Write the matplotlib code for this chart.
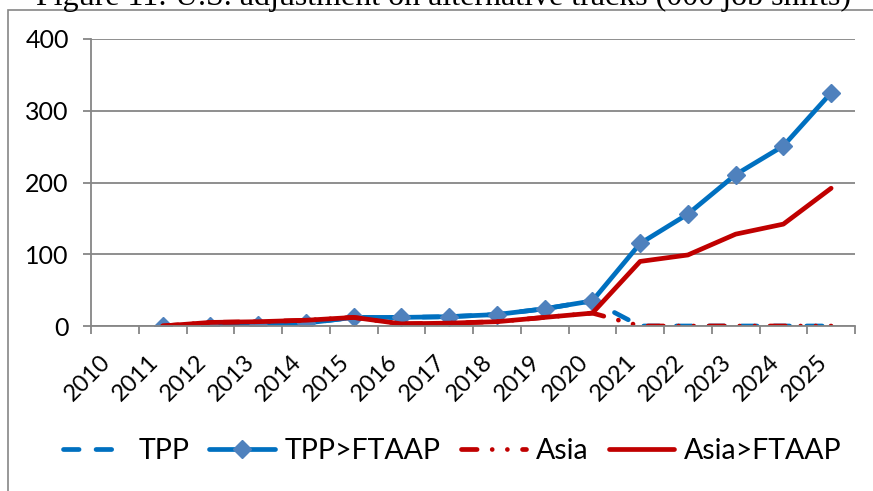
import numpy as np
import matplotlib
matplotlib.use('Agg')
import matplotlib.pyplot as plt
from matplotlib.patches import Rectangle

years = [str(y) for y in range(2010, 2026)]
nan = np.nan
tpp = [nan, 0, 0, 1, 4, 12, 12, 13, 16, 24, 35, 0, 0, 0, 0, 0]
tpp_ftaap = [nan, 0, 0, 1, 4, 12, 12, 13, 16, 24, 35, 115, 156, 211, 251, 325]
asia = [nan, 0, 5, 6, 8, 12, 3, 4, 6, 12, 18, 0, 0, 0, 0, 0]
asia_ftaap = [nan, 0, 5, 6, 8, 12, 3, 4, 6, 12, 18, 90, 99, 128, 142, 192]

title = 'Figure 11: U.S. adjustment on alternative tracks (000 job shifts)'

blue = '#0070C0'
red = '#C00000'
grey = '#868686'
font = 'Lato'

fig = plt.figure(figsize=(8.73, 4.91), dpi=100)
ax = fig.add_axes([91 / 873, 1 - 326 / 491, 764 / 873, 287 / 491])

# outer chart border (only left and top visible in the crop)
fig.patches.append(Rectangle((8 / 873, -0.2), 1.2, 1.2 - 10 / 491,
                             transform=fig.transFigure, fill=False,
                             edgecolor=grey, lw=1.2))

# caption above the chart, cut off by the top edge as in the source
fig.text(0.508, 1 - 5 / 491, title, family='Liberation Serif', fontsize=23,
         ha='center', va='baseline')

x = np.arange(len(years))
lw = 3.4
ax.plot(x, tpp, color=blue, lw=lw, dashes=(3.3, 3.6),
        dash_capstyle='round', label='TPP')
ax.plot(x, tpp_ftaap, color=blue, lw=lw, marker='D', markersize=9,
        markerfacecolor='#4F81BD', markeredgecolor='#4F81BD',
        solid_capstyle='round', label='TPP>FTAAP')
ax.plot(x, asia, color=red, lw=lw, dashes=(3.3, 3.2, 0.01, 3.2, 0.01, 3.2),
        dash_capstyle='round', label='Asia')
ax.plot(x, asia_ftaap, color=red, lw=lw, solid_capstyle='round',
        label='Asia>FTAAP')

ax.set_xlim(-0.5, len(years) - 0.5)
ax.set_ylim(0, 400)
ax.set_yticks([0, 100, 200, 300, 400])
ax.set_xticks(x)
ax.set_xticklabels(years, rotation=45, ha='right', va='top',
                   family=font, fontsize=17)
ax.set_xticks(np.arange(len(years) + 1) - 0.5, minor=True)
ax.tick_params(axis='x', which='major', length=0, pad=18)
ax.tick_params(axis='x', which='minor', length=6, color=grey, width=1.3)
ax.tick_params(axis='y', length=6, color=grey, width=1.3, pad=10,
               labelsize=18)
for lab in ax.get_yticklabels():
    lab.set_family(font)

ax.grid(axis='y', color=grey, lw=1.3)
ax.set_axisbelow(True)
for s in ['top', 'right']:
    ax.spines[s].set_visible(False)
for s in ['left', 'bottom']:
    ax.spines[s].set_color(grey)
    ax.spines[s].set_linewidth(1.3)

fig.legend(loc='center', bbox_to_anchor=(0.518, 1 - 451 / 491), ncol=4,
           frameon=False, prop={'family': font, 'size': 20.5},
           handlelength=2.3, handletextpad=0.35, columnspacing=0.7,
           numpoints=1)

fig.savefig('out.png', dpi=100)
